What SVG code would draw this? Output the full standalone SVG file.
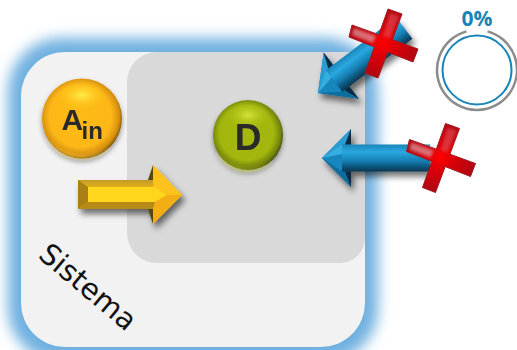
<svg xmlns="http://www.w3.org/2000/svg" xmlns:xlink="http://www.w3.org/1999/xlink" width="517" height="350" viewBox="0 0 517 350">
<style>
.lbl{font-family:"Liberation Sans",Arial,sans-serif;font-weight:700;fill:#2a2a2a}
</style>
<defs>
<filter id="blur" x="-20%" y="-20%" width="140%" height="140%"><feGaussianBlur stdDeviation="7"/></filter>
<filter id="soft" x="-30%" y="-30%" width="160%" height="160%"><feGaussianBlur stdDeviation="1.5"/></filter>
<filter id="shadow" x="-30%" y="-30%" width="170%" height="170%"><feDropShadow dx="3" dy="5" stdDeviation="3" flood-color="#000" flood-opacity="0.55"/></filter>
<filter id="ballshadow" x="-30%" y="-30%" width="170%" height="170%"><feDropShadow dx="0" dy="3" stdDeviation="2.5" flood-color="#000" flood-opacity="0.4"/></filter>
<radialGradient id="ya" cx="48%" cy="47%" r="54%"><stop offset="0" stop-color="#fdbb13"/><stop offset="0.72" stop-color="#fdb714"/><stop offset="0.9" stop-color="#d69010"/><stop offset="1" stop-color="#6f4d10"/></radialGradient>
<radialGradient id="yh" cx="50%" cy="50%" r="50%"><stop offset="0" stop-color="#fff04a" stop-opacity="0.95"/><stop offset="1" stop-color="#fdc51c" stop-opacity="0"/></radialGradient>
<radialGradient id="ga" cx="48%" cy="47%" r="54%"><stop offset="0" stop-color="#a6b80e"/><stop offset="0.72" stop-color="#a2b60c"/><stop offset="0.9" stop-color="#75840c"/><stop offset="1" stop-color="#3e450c"/></radialGradient>
<radialGradient id="gh" cx="50%" cy="50%" r="50%"><stop offset="0" stop-color="#d6e63c" stop-opacity="0.95"/><stop offset="1" stop-color="#b3c61c" stop-opacity="0"/></radialGradient>
<linearGradient id="bshaft" x1="0" y1="0" x2="0" y2="1"><stop offset="0" stop-color="#1a86ba"/><stop offset="0.28" stop-color="#2aa8e0"/><stop offset="0.6" stop-color="#1480b4"/><stop offset="1" stop-color="#0a3550"/></linearGradient>
<linearGradient id="byface" x1="0" y1="0" x2="0" y2="1"><stop offset="0" stop-color="#c49a22"/><stop offset="1" stop-color="#e0b01e"/></linearGradient>
<radialGradient id="red" gradientUnits="userSpaceOnUse" cx="383" cy="43" r="42"><stop offset="0" stop-color="#ff0000"/><stop offset="0.3" stop-color="#dc0008"/><stop offset="1" stop-color="#a00a14"/></radialGradient>
<g id="barrow">
<polygon points="0,0 29,-29 29,29" fill="#1380b8"/>
<polygon points="0,0 29,-29 29,-13.5 20,-8" fill="#2a9cd2"/>
<polygon points="0,0 20,0 20,8 29,13.5 29,29" fill="#0f6d9d"/>
<rect x="20" y="-13.5" width="88" height="27" fill="url(#bshaft)"/>
<polygon points="20,-13.5 20,13.5 0,0" fill="#1486bc"/>
<polygon points="0,0 20,-13.5 20,-4" fill="#36aee2"/>
<polygon points="29,-29 29,-13.5 23,-13.5" fill="#0a2c44"/>
<polygon points="29,29 29,13.5 23,13.5" fill="#0a2c44"/>
</g>
<g id="cross">
<polygon points="388,9 402,14 392.4,39.7 418,49 413,62 387.7,52.1 378,78 365,73 374.4,46.9 349,37 352,25 378.8,34.7" fill="url(#red)" stroke="#a01a22" stroke-width="1"/>
<polygon points="390,13 399,16 390,38 383,36" fill="#e8606a" opacity="0.5" filter="url(#soft)"/>
<polygon points="354,28 376,36 373,43 352,35" fill="#dc9298" opacity="0.75" filter="url(#soft)"/>
</g>
</defs>

<rect x="8" y="38" width="370" height="324" rx="54" fill="#70b0e0" filter="url(#blur)"/>

<g id="sistema">
<rect x="21" y="52" width="344" height="295" rx="44" fill="#f2f2f2"/>
<text transform="translate(37,257) rotate(40)" font-family="'DejaVu Sans',sans-serif" font-size="29" fill="#111">Sistema</text>
</g>

<g id="d-region">
<path d="M157,52H365V238A25,25 0 0 1 340,263H157A30,30 0 0 1 127,233V82A30,30 0 0 1 157,52Z" fill="#d9d9d9"/>
</g>

<g id="node-a" filter="url(#ballshadow)">
<circle cx="82" cy="118.500" r="40" fill="url(#ya)"/>
<ellipse cx="82" cy="95" rx="25" ry="15" fill="url(#yh)"/>
<path d="M47,137A39,39 0 0 0 110,146A44,44 0 0 1 47,137Z" fill="#ffd23c" opacity="0.55" filter="url(#soft)"/>
<text class="lbl" x="61.500" y="130" font-size="30">A</text>
<text class="lbl" x="81.500" y="139" font-size="24">in</text>
</g>

<g id="node-d" filter="url(#ballshadow)">
<circle cx="248" cy="135" r="35" fill="url(#ga)"/>
<ellipse cx="248" cy="115" rx="22" ry="13" fill="url(#gh)"/>
<path d="M217,152A34,34 0 0 0 272,160A38,38 0 0 1 217,152Z" fill="#d0e020" opacity="0.55" filter="url(#soft)"/>
<text class="lbl" x="248" y="150" font-size="37" text-anchor="middle">D</text>
</g>

<g id="connectors">
<g filter="url(#shadow)">
<polygon points="78,180 153,180 153,165 182,195 153,224 153,209 78,209" fill="#f9bd16"/>
<polygon points="78,180 153,180 153,187 88,187" fill="url(#byface)"/>
<polygon points="78,180 88,187 88,202 78,209" fill="#a88018"/>
<polygon points="88,187 155,187 167,195 155,202 88,202" fill="#ffd61f"/>
<polygon points="78,209 88,202 155,202 153,209" fill="#b58a14"/>
<polygon points="153,165 182,195 167,195 155,187 153,180" fill="#fdc31a"/>
<polygon points="153,224 182,195 167,195 155,202 153,209" fill="#f3ae12"/>
<polygon points="153,165 153,180 148,180" fill="#5a4408"/>
<polygon points="153,224 153,209 148,209" fill="#5a4408"/>
</g>
<g filter="url(#shadow)"><use href="#barrow" xlink:href="#barrow" transform="translate(318,93) rotate(-37)"/></g>
<g filter="url(#shadow)"><use href="#barrow" xlink:href="#barrow" transform="translate(322,158)"/></g>
</g>

<g id="cross-1"><use href="#cross" xlink:href="#cross"/></g>
<g id="cross-2"><use href="#cross" xlink:href="#cross" transform="translate(57.5,114.5)"/></g>

<g id="gauge">
<text x="477" y="26" font-family="'Open Sans',sans-serif" font-weight="700" font-size="21" fill="#1a84b8" text-anchor="middle">0%</text>
<circle cx="477" cy="70" r="34.5" fill="none" stroke="#1a84b8" stroke-width="2"/>
<path d="M466.5,31.4A40,40 0 1 0 487.5,31.4" fill="none" stroke="#8c8c8c" stroke-width="2.5"/>
</g>
</svg>
